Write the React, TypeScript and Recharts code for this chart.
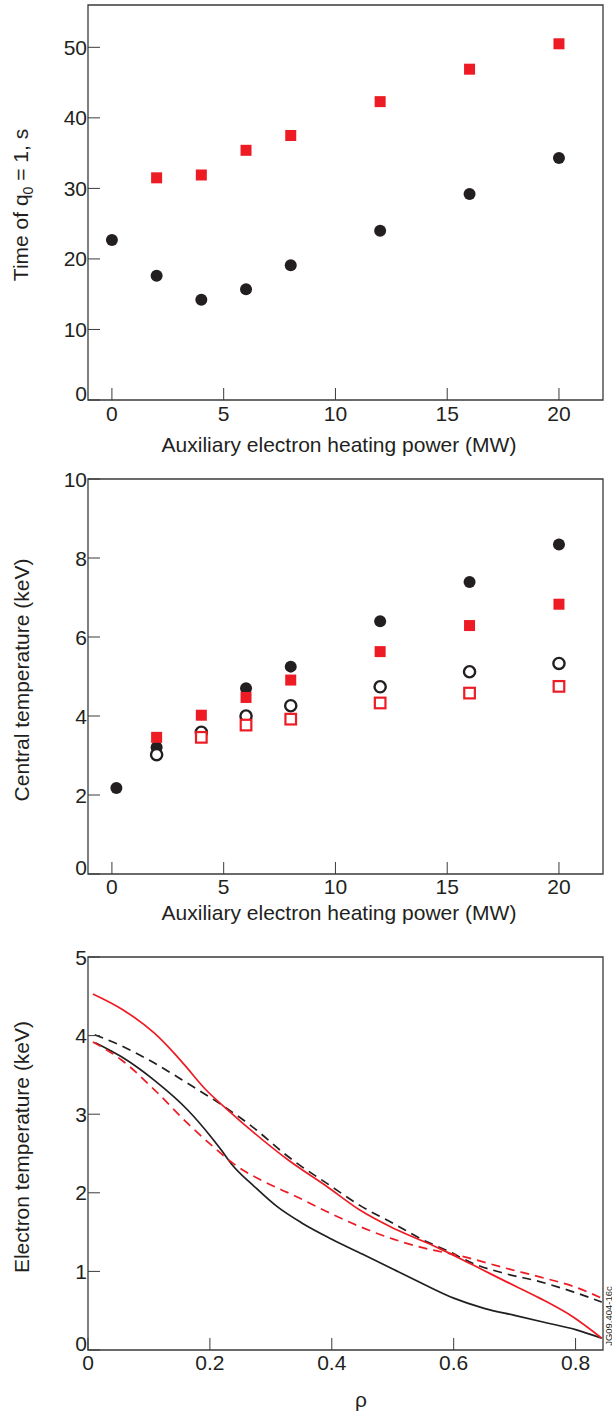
import React from 'react';
import {
  ScatterChart, Scatter, LineChart, Line, XAxis, YAxis, ReferenceArea,
} from 'recharts';

// panel a: time of q0 = 1 vs auxiliary heating power
const powerCircle = [0, 2, 4, 6, 8, 12, 16, 20];
const timeCircle = [22.7, 17.6, 14.2, 15.7, 19.1, 24.0, 29.2, 34.3];
const powerSquare = [2, 4, 6, 8, 12, 16, 20];
const timeSquare = [31.5, 31.9, 35.4, 37.5, 42.3, 46.9, 50.5];

// panel b: central temperature vs auxiliary heating power
const powerFilledCircle = [0.2, 2, 6, 8, 12, 16, 20];
const tempFilledCircle = [2.18, 3.21, 4.7, 5.25, 6.4, 7.39, 8.34];
const powerFilledSquare = [2, 4, 6, 8, 12, 16, 20];
const tempFilledSquare = [3.46, 4.02, 4.47, 4.91, 5.63, 6.29, 6.83];
const powerOpenCircle = [2, 4, 6, 8, 12, 16, 20];
const tempOpenCircle = [3.02, 3.59, 4.0, 4.26, 4.74, 5.12, 5.33];
const powerOpenSquare = [4, 6, 8, 12, 16, 20];
const tempOpenSquare = [3.46, 3.77, 3.92, 4.33, 4.58, 4.75];

// panel c: electron temperature profiles vs rho
const rhoRedSolid = [0.008, 0.057, 0.109, 0.142, 0.158, 0.191, 0.23, 0.273, 0.328, 0.392, 0.446, 0.501, 0.545, 0.577, 0.632, 0.686, 0.741, 0.796, 0.843];
const teRedSolid = [4.53, 4.33, 4.03, 3.77, 3.63, 3.33, 3.05, 2.76, 2.42, 2.08, 1.78, 1.55, 1.4, 1.29, 1.08, 0.87, 0.66, 0.42, 0.15];
const rhoBlackSolid = [0.012, 0.055, 0.109, 0.164, 0.202, 0.219, 0.235, 0.273, 0.311, 0.35, 0.4, 0.45, 0.5, 0.55, 0.6, 0.65, 0.7, 0.75, 0.8, 0.843];
const teBlackSolid = [3.91, 3.73, 3.43, 3.05, 2.71, 2.54, 2.37, 2.08, 1.82, 1.62, 1.41, 1.22, 1.03, 0.84, 0.66, 0.53, 0.44, 0.35, 0.26, 0.15];
const rhoBlackDash = [0.011, 0.055, 0.109, 0.164, 0.219, 0.273, 0.322, 0.337, 0.392, 0.446, 0.501, 0.555, 0.588, 0.632, 0.686, 0.741, 0.796, 0.843];
const teBlackDash = [4.01, 3.87, 3.65, 3.39, 3.12, 2.82, 2.5, 2.41, 2.12, 1.84, 1.61, 1.38, 1.27, 1.1, 0.97, 0.87, 0.74, 0.61];
const rhoRedDash = [0.008, 0.055, 0.109, 0.164, 0.202, 0.246, 0.282, 0.317, 0.337, 0.392, 0.446, 0.501, 0.555, 0.61, 0.686, 0.741, 0.796, 0.843];
const teRedDash = [3.92, 3.69, 3.31, 2.88, 2.61, 2.33, 2.17, 2.04, 1.97, 1.76, 1.57, 1.41, 1.29, 1.2, 1.04, 0.93, 0.81, 0.66];

const powerTicks = [0, 5, 10, 15, 20];
const timeTicks = [0, 10, 20, 30, 40, 50];
const tempTicks = [0, 2, 4, 6, 8, 10];
const rhoTicks = [0, 0.2, 0.4, 0.6, 0.8];
const teTicks = [0, 1, 2, 3, 4, 5];

const powerDomain = [-1.07, 21.97];
const timeDomain = [0, 56];
const tempDomain = [0, 10];
const rhoDomain = [0, 0.845];
const teDomain = [0, 5];

const RED = '#ed1c24';
const INK = '#231f20';
const AXIS = '#3a3a3a';
const FONT = '"Liberation Sans", Arial, Helvetica, sans-serif';

const zip = (xs: number[], ys: number[]) => xs.map((x, i) => ({ x, y: ys[i] }));

const FilledCircle = (p: any) => <circle cx={p.cx} cy={p.cy} r={6} fill={INK} />;
const OpenCircle = (p: any) => (
  <circle cx={p.cx} cy={p.cy} r={5.6} fill="#fff" stroke={INK} strokeWidth={2.4} />
);
const FilledSquare = (p: any) => (
  <rect x={p.cx - 5.5} y={p.cy - 5.5} width={11} height={11} fill={RED} />
);
const OpenSquare = (p: any) => (
  <rect x={p.cx - 5.3} y={p.cy - 5.3} width={10.6} height={10.6} fill="#fff" stroke={RED} strokeWidth={2.2} />
);

// y tick labels, the 0 label sits a little above its tick
const YTick = (p: any) => (
  <text
    x={p.x}
    y={p.y + (p.payload.value === 0 ? -7 : 0)}
    dy="0.36em"
    textAnchor="end"
    fill={INK}
    fontSize={21}
  >
    {p.payload.value}
  </text>
);

const xTickStyle = { fill: INK, fontSize: 21 };

const Title = ({ x, y, rotate, children }: any) => (
  <div
    style={{
      position: 'absolute',
      left: x,
      top: y,
      transform: `translate(-50%, -50%)${rotate ? ' rotate(-90deg)' : ''}`,
      whiteSpace: 'nowrap',
      fontSize: 21,
      lineHeight: '24px',
      color: INK,
    }}
  >
    {children}
  </div>
);

// plot frame drawn as an unfilled area over the full domain
const frame = (xd: number[], yd: number[]) => (
  <ReferenceArea
    x1={xd[0]}
    x2={xd[1]}
    y1={yd[0]}
    y2={yd[1]}
    fill="none"
    fillOpacity={0}
    stroke={AXIS}
    strokeWidth={1.3}
    strokeOpacity={1}
    ifOverflow="visible"
  />
);

const axisProps = {
  type: 'number' as const,
  interval: 0 as const,
  tickSize: -12,
  tickLine: { stroke: AXIS },
  axisLine: false,
  allowDataOverflow: true,
};

export default function App() {
  return (
    <div
      style={{
        position: 'absolute',
        left: 0,
        top: 0,
        width: 612,
        height: 1411,
        overflow: 'hidden',
        background: '#fff',
        fontFamily: FONT,
      }}
    >
      <div style={{ position: 'absolute', left: 0, top: 0 }}>
        <ScatterChart width={612} height={460} margin={{ top: 5, right: 9, bottom: 30, left: 0 }}>
          <XAxis {...axisProps} dataKey="x" domain={powerDomain} ticks={powerTicks} height={30} tickMargin={18} tick={xTickStyle} />
          <YAxis {...axisProps} dataKey="y" domain={timeDomain} ticks={timeTicks} width={88} tickMargin={13} tick={YTick} />
          {frame(powerDomain, timeDomain)}
          <Scatter data={zip(powerCircle, timeCircle)} shape={FilledCircle} isAnimationActive={false} />
          <Scatter data={zip(powerSquare, timeSquare)} shape={FilledSquare} isAnimationActive={false} />
        </ScatterChart>
      </div>

      <div style={{ position: 'absolute', left: 0, top: 460 }}>
        <ScatterChart width={612} height={460} margin={{ top: 19, right: 9, bottom: 16, left: 0 }}>
          <XAxis {...axisProps} dataKey="x" domain={powerDomain} ticks={powerTicks} height={30} tickMargin={17} tick={xTickStyle} />
          <YAxis {...axisProps} dataKey="y" domain={tempDomain} ticks={tempTicks} width={88} tickMargin={13} tick={YTick} />
          {frame(powerDomain, tempDomain)}
          <Scatter data={zip(powerFilledCircle, tempFilledCircle)} shape={FilledCircle} isAnimationActive={false} />
          <Scatter data={zip(powerFilledSquare, tempFilledSquare)} shape={FilledSquare} isAnimationActive={false} />
          <Scatter data={zip(powerOpenCircle, tempOpenCircle)} shape={OpenCircle} isAnimationActive={false} />
          <Scatter data={zip(powerOpenSquare, tempOpenSquare)} shape={OpenSquare} isAnimationActive={false} />
        </ScatterChart>
      </div>

      <div style={{ position: 'absolute', left: 0, top: 920 }}>
        <LineChart width={612} height={491} margin={{ top: 37, right: 9, bottom: 31, left: 0 }}>
          <XAxis {...axisProps} dataKey="x" domain={rhoDomain} ticks={rhoTicks} height={30} tickMargin={17} tick={xTickStyle} />
          <YAxis {...axisProps} dataKey="y" domain={teDomain} ticks={teTicks} width={88} tickMargin={13} tick={YTick} />
          {frame(rhoDomain, teDomain)}
          <Line data={zip(rhoBlackSolid, teBlackSolid)} dataKey="y" type="monotone" stroke={INK} strokeWidth={1.7} dot={false} isAnimationActive={false} />
          <Line data={zip(rhoBlackDash, teBlackDash)} dataKey="y" type="monotone" stroke={INK} strokeWidth={1.7} strokeDasharray="9 6" dot={false} isAnimationActive={false} />
          <Line data={zip(rhoRedDash, teRedDash)} dataKey="y" type="monotone" stroke={RED} strokeWidth={1.7} strokeDasharray="9 6" dot={false} isAnimationActive={false} />
          <Line data={zip(rhoRedSolid, teRedSolid)} dataKey="y" type="monotone" stroke={RED} strokeWidth={1.7} dot={false} isAnimationActive={false} />
        </LineChart>
      </div>

      <Title x={22} y={205} rotate>
        Time of q<span style={{ fontSize: 14, position: 'relative', top: 5 }}>0</span> = 1, s
      </Title>
      <Title x={339} y={445}>Auxiliary electron heating power (MW)</Title>
      <Title x={22} y={680} rotate>Central temperature (keV)</Title>
      <Title x={339} y={913}>Auxiliary electron heating power (MW)</Title>
      <Title x={22} y={1147} rotate>Electron temperature (keV)</Title>
      <Title x={361} y={1400}>ρ</Title>
      <div
        style={{
          position: 'absolute',
          left: 607.5,
          top: 1316,
          transform: 'translate(-50%, -50%) rotate(-90deg)',
          whiteSpace: 'nowrap',
          fontSize: 9.5,
          lineHeight: '9px',
          color: INK,
        }}
      >
        JG09.404-16c
      </div>
    </div>
  );
}
